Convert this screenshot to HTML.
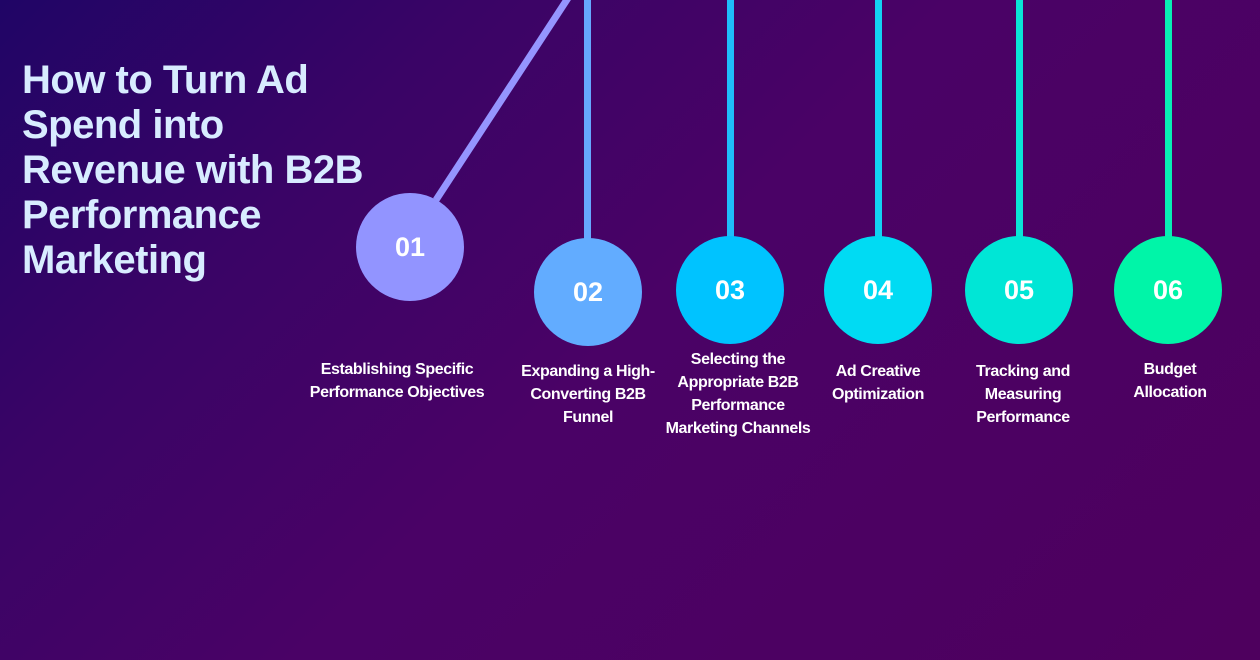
<!DOCTYPE html>
<html><head><style>
body{margin:0;width:1260px;height:660px;overflow:hidden;background:linear-gradient(135deg,#200566 0%,#3a0466 25%,#4a0266 50%,#4e005e 100%);font-family:"Liberation Sans",sans-serif;position:relative}
.t{position:absolute;left:22px;top:58px;color:#d8ecff;font-size:40px;font-weight:bold;line-height:45px;letter-spacing:-0.5px}
.c{position:absolute;width:108px;height:108px;border-radius:50%;color:#fff;font-weight:bold;font-size:27px;display:flex;align-items:center;justify-content:center}
.l{position:absolute;top:0;width:7px}
.lb{position:absolute;color:#fff;font-weight:bold;font-size:16px;line-height:23px;text-align:center;letter-spacing:-0.4px;white-space:nowrap}
</style></head><body>
<div class="t">How to Turn Ad<br>Spend into<br>Revenue with B2B<br>Performance<br>Marketing</div>
<svg width="1260" height="660" style="position:absolute;left:0;top:0"><line x1="436" y1="200" x2="570" y2="-5" stroke="#9595ff" stroke-width="7"/></svg>
<div class="l" style="left:584px;height:240px;background:#66a8ff"></div>
<div class="l" style="left:727px;height:240px;background:#1fbdfb"></div>
<div class="l" style="left:875px;height:240px;background:#13d2f3"></div>
<div class="l" style="left:1016px;height:240px;background:#0ae4d6"></div>
<div class="l" style="left:1165px;height:240px;background:#08eeb5"></div>
<div class="c" style="left:356px;top:193px;background:#9294ff">01</div>
<div class="c" style="left:534px;top:238px;background:#62acff">02</div>
<div class="c" style="left:676px;top:236px;background:#00c3ff">03</div>
<div class="c" style="left:824px;top:236px;background:#00dbf3">04</div>
<div class="c" style="left:965px;top:236px;background:#00e6d6">05</div>
<div class="c" style="left:1114px;top:236px;background:#00f5a8">06</div>
<div class="lb" style="left:297px;top:358px;width:200px">Establishing Specific<br>Performance Objectives</div>
<div class="lb" style="left:508px;top:360px;width:160px">Expanding a High-<br>Converting B2B<br>Funnel</div>
<div class="lb" style="left:648px;top:348px;width:180px">Selecting the<br>Appropriate B2B<br>Performance<br>Marketing Channels</div>
<div class="lb" style="left:808px;top:360px;width:140px">Ad Creative<br>Optimization</div>
<div class="lb" style="left:953px;top:360px;width:140px">Tracking and<br>Measuring<br>Performance</div>
<div class="lb" style="left:1110px;top:358px;width:120px">Budget<br>Allocation</div>
</body></html>
